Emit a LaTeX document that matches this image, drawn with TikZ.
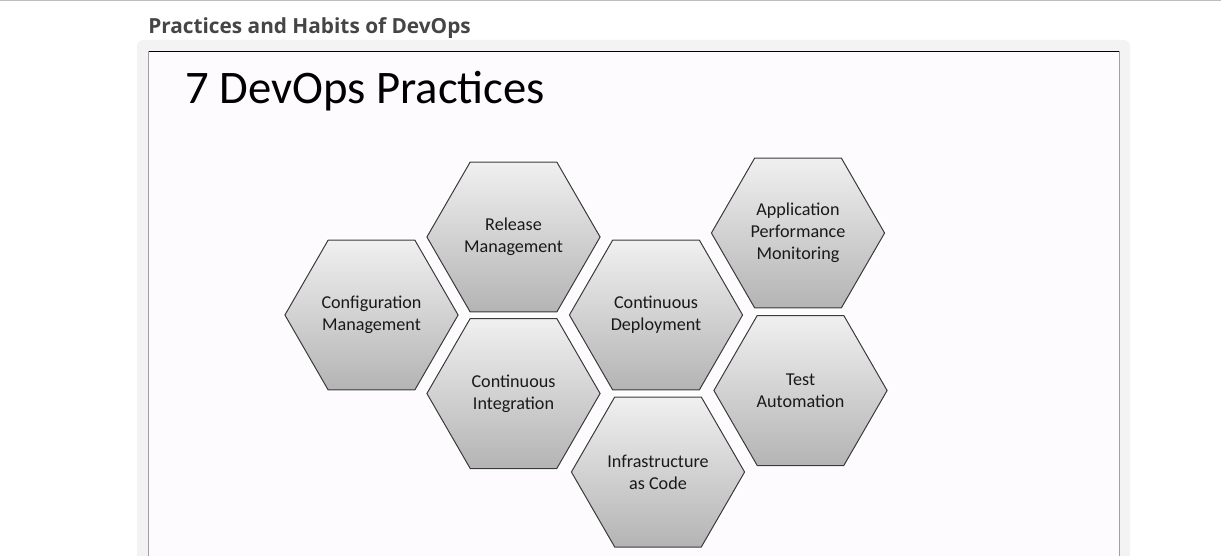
\documentclass[tikz,border=0pt]{standalone}
\usepackage{fontspec}
\setmainfont{Carlito}
\newfontfamily\headfont{Open Sans}
\usetikzlibrary{shapes.geometric}
\definecolor{rulegray}{HTML}{BDBDBD}
\definecolor{panelgray}{HTML}{F3F3F3}
\definecolor{slidefill}{HTML}{FDFBFD}
\definecolor{slideside}{HTML}{A0A0A0}
\definecolor{headgray}{HTML}{454545}
\definecolor{hextop}{HTML}{F0F0F0}
\definecolor{hexbot}{HTML}{B4B4B4}
\definecolor{hexline}{HTML}{3A3A3A}
\tikzset{
  hexcell/.style={regular polygon, regular polygon sides=6, minimum size=129.9pt,
    inner sep=0pt, top color=hextop, bottom color=hexbot, draw=hexline, line width=0.75pt,
    preaction={draw=white, line width=3pt}, align=center, text=black!90,
    font=\fontsize{13.6}{16.5}\selectfont}
}

\begin{document}
\begin{tikzpicture}[x=0.75pt,y=0.75pt,yscale=-1,xscale=1]
\useasboundingbox (0,0) rectangle (1221,556);

%Straight Lines [top rule]
\draw [rulegray, line width=1.5pt] (0,0.5) -- (1221,0.5) ;
% Text Node
\node [anchor=base west, inner sep=0pt, text=headgray, font=\headfont\bfseries\fontsize{15.6}{18}\selectfont] (pagetitle) at (148,33.5) {Practices and Habits of DevOps};

%Shape: Rectangle [panel]
\fill [panelgray, rounded corners=4pt] (137,40) rectangle (1130,600) ;
%Shape: Rectangle [slide]
\fill [slidefill] (148,51) rectangle (1120,600) ;
\draw [black, line width=0.75pt] (148,51.5) -- (1120,51.5) ;
\draw [slideside, line width=0.75pt] (148.5,51.5) -- (148.5,600) ;
\draw [slideside, line width=0.75pt] (1119.5,51.5) -- (1119.5,600) ;

% Text Node
\node [anchor=base west, inner sep=0pt, font=\fontsize{35}{40}\selectfont] (slidetitle) at (185,104) {7 DevOps Practices};

%Shape: Hexagons
\node [hexcell] (config) at (371.5,315) {Configuration\\Management};
\node [hexcell] (release) at (513.5,237) {Release\\Management};
\node [hexcell] (integration) at (513.5,393.5) {Continuous\\Integration};
\node [hexcell] (deployment) at (656,315) {Continuous\\Deployment};
\node [hexcell] (infra) at (658,472) {Infrastructure\\as Code};
\node [hexcell] (monitoring) at (798,233) {Application\\Performance\\Monitoring};
\node [hexcell] (testing) at (800.5,390.5) {Test\\Automation};

\end{tikzpicture}
\end{document}
